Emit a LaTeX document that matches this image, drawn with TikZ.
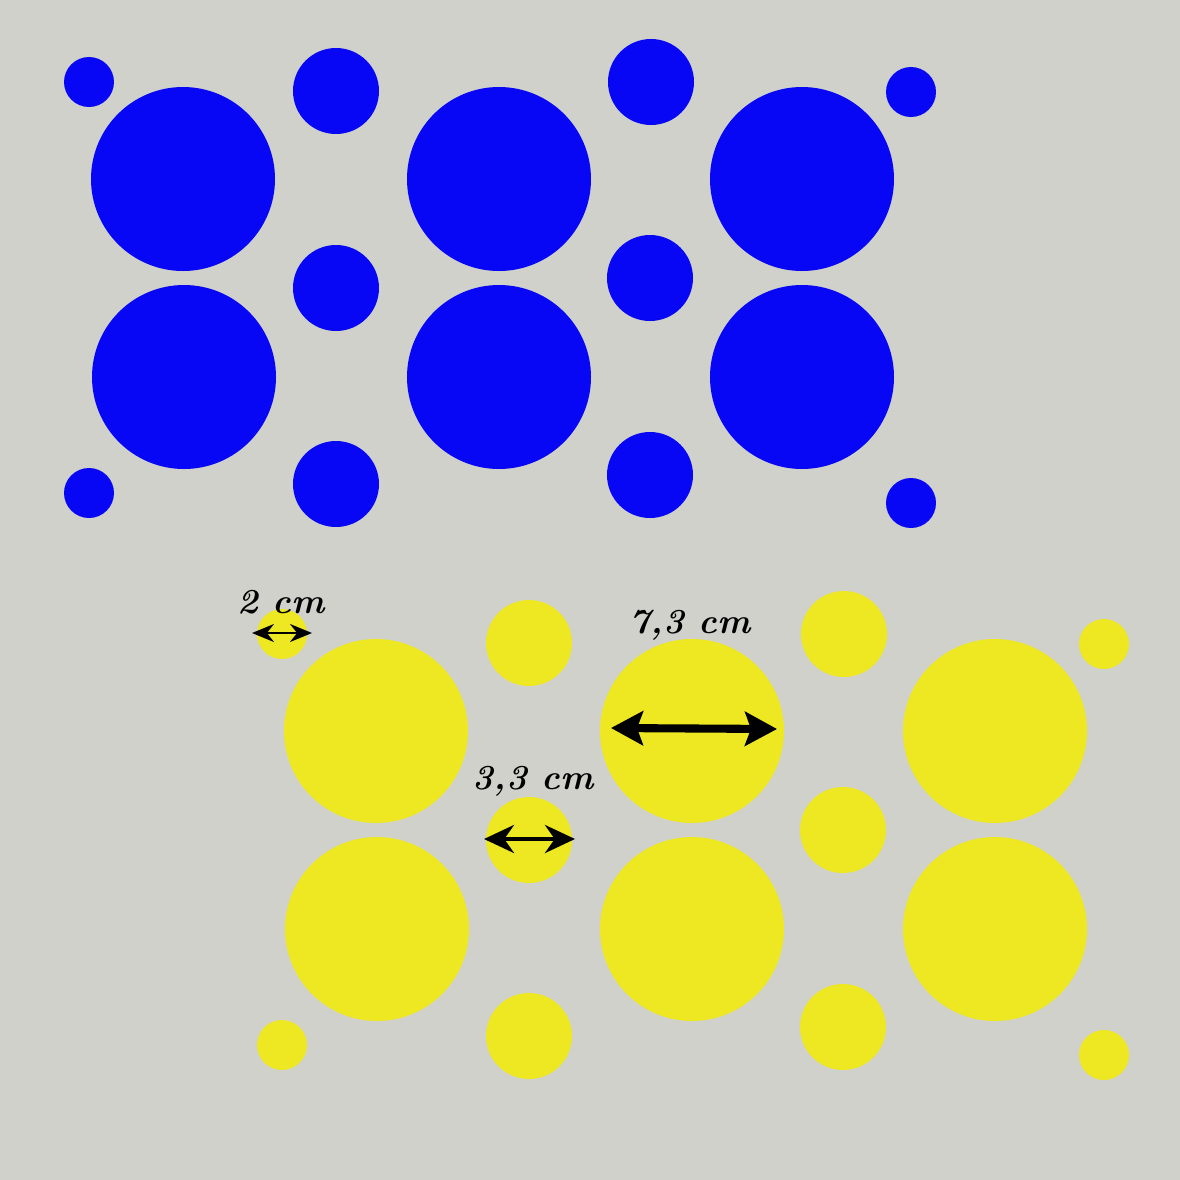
\documentclass[tikz,border=0pt]{standalone}
\usepackage{tikz}
\usetikzlibrary{arrows.meta}

\definecolor{paper}{HTML}{D0D1CA}
\definecolor{dotblue}{HTML}{0707F5}
\definecolor{dotyellow}{HTML}{EEE823}

% one sheet of dots, origin at the top left corner
\newcommand{\dotsheet}[1]{%
    \fill[#1] (1.83,-1.79) circle (0.92);
    \fill[#1] (4.99,-1.79) circle (0.92);
    \fill[#1] (8.02,-1.79) circle (0.92);
    \fill[#1] (1.84,-3.77) circle (0.92);
    \fill[#1] (4.99,-3.77) circle (0.92);
    \fill[#1] (8.02,-3.77) circle (0.92);
    \fill[#1] (3.36,-0.91) circle (0.43);
    \fill[#1] (6.51,-0.82) circle (0.43);
    \fill[#1] (3.36,-2.88) circle (0.43);
    \fill[#1] (6.50,-2.78) circle (0.43);
    \fill[#1] (3.36,-4.84) circle (0.43);
    \fill[#1] (6.50,-4.75) circle (0.43);
    \fill[#1] (0.89,-0.82) circle (0.25);
    \fill[#1] (9.11,-0.92) circle (0.25);
    \fill[#1] (0.89,-4.93) circle (0.25);
    \fill[#1] (9.11,-5.03) circle (0.25);
}

\begin{document}
\begin{tikzpicture}
    \tikzstyle{size} = [font=\bfseries\itshape\fontsize{10}{12}\selectfont, inner sep=1pt]
    \fill[paper] (0,0) rectangle (11.8,-11.8);
    \useasboundingbox (0,0) rectangle (11.8,-11.8);

    \dotsheet{dotblue}
    \begin{scope}[shift={(1.93,-5.52)}]
        \dotsheet{dotyellow}
    \end{scope}

    \coordinate (s1) at (2.52,-6.33);
    \coordinate (s2) at (3.12,-6.33);
    \coordinate (m1) at (4.84,-8.39);
    \coordinate (m2) at (5.75,-8.39);
    \coordinate (b1) at (6.11,-7.28);
    \coordinate (b2) at (7.77,-7.29);

    \draw[{Stealth[length=2.2mm,width=1.8mm]}-{Stealth[length=2.2mm,width=1.8mm]}, line width=0.7pt] (s1) -- (s2);
    \draw[{Stealth[length=3mm,width=2.8mm]}-{Stealth[length=3mm,width=2.8mm]}, line width=1.2pt] (m1) -- (m2);
    \draw[{Stealth[length=3.2mm,width=3.4mm,inset=0.6mm]}-{Stealth[length=3.2mm,width=3.4mm,inset=0.6mm]}, line width=2.3pt] (b1) -- (b2);

    \node[size] (small) at (2.81,-6.02) {2 cm};
    \node[size] (medium) at (5.33,-7.81) {3,3 cm};
    \node[size] (big) at (6.90,-6.25) {7,3 cm};
\end{tikzpicture}
\end{document}
